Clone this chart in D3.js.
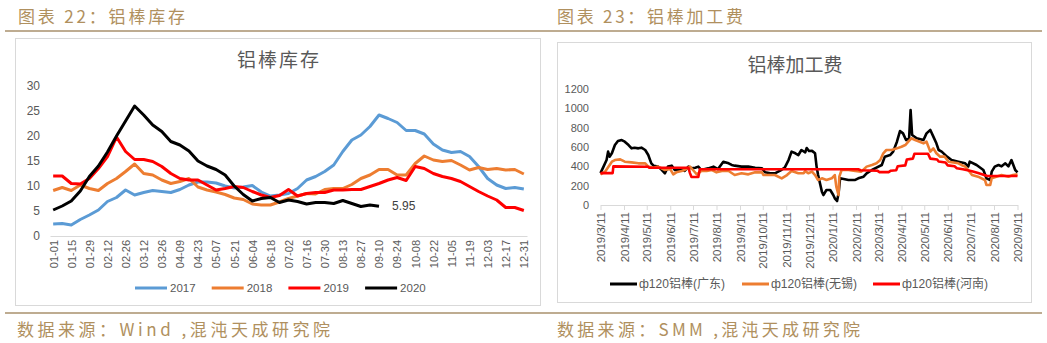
<!DOCTYPE html>
<html>
<head>
<meta charset="utf-8">
<script src="https://cdn.jsdelivr.net/npm/d3@7"></script>
<style>
  body { margin: 0; background: #fff; }
  svg { display: block; }
</style>
</head>
<body>
<svg id="chart" width="1047" height="343"></svg>
<script>
// ---- left chart: aluminium rod stock (weekly) ----
var weeks = ["01-01","01-08","01-15","01-22","01-29","02-05","02-12","02-19","02-26","03-05",
  "03-12","03-19","03-26","04-02","04-09","04-16","04-23","04-30","05-07","05-14",
  "05-21","05-28","06-04","06-11","06-18","06-25","07-02","07-09","07-16","07-23",
  "07-30","08-06","08-13","08-20","08-27","09-03","09-10","09-17","09-24","10-01",
  "10-08","10-15","10-22","10-29","11-05","11-12","11-19","11-26","12-03","12-10",
  "12-17","12-24","12-31"];
var stock2017 = [2.4,2.5,2.2,3.3,4.2,5.2,6.9,7.7,9.2,8.2, 8.7,9.1,8.9,8.7,9.3,10.2,10.8,10.8,10.6,10.0,
  9.6,9.8,10.1,8.8,8.0,8.2,8.5,9.5,11.2,11.9, 12.9,14.2,16.9,19.2,20.2,21.9,24.2,23.5,22.7,21.1,
  21.1,20.4,18.4,17.2,16.7,16.9,15.9,13.9,11.5,10.2, 9.5,9.7,9.4];
var stock2018 = [9.1,9.7,9.1,10.2,9.5,9.1,10.5,11.5,12.9,14.4, 12.5,12.2,11.2,10.5,10.9,11.5,9.8,9.2,8.8,8.3,
  7.6,7.3,6.4,6.2,6.2,6.8,7.5,8.0,8.5,8.4, 9.3,9.5,9.5,10.3,11.5,12.2,13.3,13.3,12.2,12.2,
  14.5,16.0,15.2,14.9,15.1,14.2,13.2,13.7,13.3,13.5, 13.2,13.3,12.4];
var stock2019 = [12.0,12.0,10.5,10.4,11.5,13.5,15.9,19.8,16.9,15.3, 15.3,14.9,13.9,12.5,11.5,11.2,11.2,10.2,9.2,9.5,
  9.9,9.7,8.9,8.2,7.7,8.1,9.3,8.0,8.5,8.7, 8.7,9.2,9.2,9.3,9.3,9.9,10.5,11.2,11.7,11.1,
  13.9,13.5,12.5,11.9,11.5,10.9,9.9,8.9,8.0,7.2, 5.7,5.7,5.1];
var stock2020 = [5.2,6.0,7.0,9.0,11.9,14.0,16.8,20.0,23.0,26.0, 24.2,22.2,20.9,18.9,18.2,17.0,15.0,14.0,13.3,12.2,
  10.0,8.3,7.0,7.5,7.7,6.7,7.2,6.9,6.4,6.7, 6.7,6.5,7.1,6.5,5.9,6.2,5.95];
var stockNames = ["2017","2018","2019","2020"];
var stockColors = ["#5b9bd5","#ed7d31","#ff0000","#000000"];
var stockTicks = [0,5,10,15,20,25,30];

// ---- right chart: processing fee (daily) ----
var gdDates = ["2019-03-11","2019-03-15","2019-03-19","2019-03-21","2019-03-23","2019-03-26","2019-03-30","2019-04-03","2019-04-08","2019-04-12",
  "2019-04-17","2019-04-21","2019-04-25","2019-04-30","2019-05-04","2019-05-09","2019-05-13","2019-05-17","2019-05-20","2019-05-26",
  "2019-05-31","2019-06-04","2019-06-08","2019-06-13","2019-06-17","2019-06-22","2019-06-26","2019-06-30","2019-07-05","2019-07-09",
  "2019-07-14","2019-07-18","2019-07-22","2019-07-31","2019-08-07","2019-08-13","2019-08-20","2019-08-27","2019-08-31","2019-09-04",
  "2019-09-13","2019-09-22","2019-10-01","2019-10-10","2019-10-14","2019-10-21","2019-10-27","2019-11-03","2019-11-09","2019-11-14",
  "2019-11-18","2019-11-23","2019-11-27","2019-12-01","2019-12-06","2019-12-08","2019-12-11","2019-12-15","2019-12-19","2019-12-21",
  "2019-12-23","2019-12-26","2019-12-28","2019-12-30","2020-01-03","2020-01-08","2020-01-12","2020-01-14","2020-01-17","2020-01-19",
  "2020-01-21","2020-02-01","2020-02-10","2020-02-14","2020-02-21","2020-02-25","2020-03-03","2020-03-09","2020-03-16","2020-03-20",
  "2020-03-27","2020-03-31","2020-04-05","2020-04-09","2020-04-13","2020-04-17","2020-04-21","2020-04-23","2020-04-25","2020-05-01",
  "2020-05-10","2020-05-14","2020-05-19","2020-05-23","2020-05-27","2020-05-30","2020-06-03","2020-06-10","2020-06-16","2020-06-25",
  "2020-07-04","2020-07-08","2020-07-10","2020-07-19","2020-07-28","2020-08-01","2020-08-06","2020-08-08","2020-08-12","2020-08-17",
  "2020-08-21","2020-08-26","2020-08-30","2020-09-03","2020-09-08","2020-09-11"];
var gdValues = [330,397,465,552,500,535,620,662,672,655, 620,586,593,586,593,569,517,431,407,397,
  362,328,397,407,362,362,372,352,397,380, 386,397,362,379,397,372,448,431,414,407,
  397,397,386,379,338,328,328,355,386,465, 552,535,517,569,545,590,559,560,535,397,
  310,207,138,103,155,155,103,69,41,121, 276,259,259,276,293,328,362,386,414,500,
  517,552,655,765,741,672,690,983,724,690, 672,741,776,707,638,569,552,500,465,448,
  431,397,448,414,362,276,259,345,397,414, 400,431,400,465,362,338];

var wxDates = ["2019-03-11","2019-03-17","2019-03-26","2019-03-30","2019-04-06","2019-04-12","2019-04-21","2019-04-30","2019-05-09","2019-05-13",
  "2019-05-20","2019-05-26","2019-06-04","2019-06-11","2019-06-15","2019-06-19","2019-06-26","2019-06-30","2019-07-07","2019-07-11",
  "2019-07-16","2019-07-22","2019-07-29","2019-08-05","2019-08-11","2019-08-18","2019-08-27","2019-09-04","2019-09-13","2019-09-22",
  "2019-10-01","2019-10-10","2019-10-12","2019-10-27","2019-11-05","2019-11-12","2019-11-18","2019-11-27","2019-12-04","2019-12-06",
  "2019-12-10","2019-12-15","2019-12-19","2019-12-23","2019-12-28","2020-01-03","2020-01-10","2020-01-14","2020-01-16","2020-01-19",
  "2020-01-20","2020-01-23","2020-02-01","2020-02-10","2020-02-18","2020-02-25","2020-03-03","2020-03-09","2020-03-14","2020-03-18",
  "2020-03-22","2020-03-29","2020-04-05","2020-04-11","2020-04-16","2020-04-20","2020-04-24","2020-04-29","2020-05-10","2020-05-14",
  "2020-05-19","2020-05-23","2020-05-27","2020-06-01","2020-06-07","2020-06-12","2020-06-25","2020-06-29","2020-07-04","2020-07-08",
  "2020-07-13","2020-07-21","2020-07-30","2020-08-01","2020-08-06","2020-08-08","2020-08-14","2020-08-21","2020-08-30","2020-09-05",
  "2020-09-11"];
var wxValues = [317,345,448,465,472,448,441,431,431,397, 386,397,362,372,317,338,352,362,397,362,
  317,352,352,362,338,352,352,310,328,317, 338,338,310,310,276,310,352,328,330,350,
  328,345,310,259,276,259,276,310,190,103, 293,362,362,352,345,397,414,431,465,535,
  569,569,586,603,620,655,690,672,638,655, 552,586,535,500,500,448,431,414,397,362,
  310,293,259,207,207,276,293,310,293,310, 317];

var hnDates = ["2019-03-11","2019-03-27","2019-03-28","2019-05-13","2019-05-14","2019-07-05","2019-07-07","2019-07-09","2019-07-18","2019-07-20",
  "2020-02-14","2020-02-17","2020-03-10","2020-03-13","2020-03-25","2020-03-28","2020-04-04","2020-04-06","2020-04-16","2020-04-18",
  "2020-04-26","2020-04-28","2020-05-16","2020-05-19","2020-05-28","2020-05-30","2020-06-08","2020-06-11","2020-06-20","2020-06-23",
  "2020-07-01","2020-07-13","2020-07-21","2020-07-29","2020-08-02","2020-09-11"];
var hnValues = [330,330,400,395,385,385,330,290,290,370, 370,360,355,340,340,355,360,400,410,470,
  480,530,530,480,470,450,440,410,400,380, 370,350,330,310,300,300];

var feeNames = ["ф120铝棒(广东)","ф120铝棒(无锡)","ф120铝棒(河南)"];
var feeColors = ["#000000","#ed7d31","#ff0000"];
var feeTicks = [0,200,400,600,800,1000,1200];
var feeMonths = ["2019-03-11","2019-04-11","2019-05-11","2019-06-11","2019-07-11","2019-08-11","2019-09-11","2019-10-11","2019-11-11","2019-12-11",
  "2020-01-11","2020-02-11","2020-03-11","2020-04-11","2020-05-11","2020-06-11","2020-07-11","2020-08-11","2020-09-11"];

var gold = "#b0905e";
var grayTxt = "#595959";
var cjk = "'Noto Sans CJK SC', sans-serif";
var num = "'Liberation Sans', 'Noto Sans CJK SC', sans-serif";

var svg = d3.select("#chart");

// header / footer rules and captions
svg.append("line").attr("x1", 5).attr("x2", 1042).attr("y1", 31).attr("y2", 31)
    .attr("stroke", "#a8916d").attr("stroke-width", 1.5);
svg.append("line").attr("x1", 5).attr("x2", 1042).attr("y1", 313).attr("y2", 313)
    .attr("stroke", "#a8916d").attr("stroke-width", 1.5);

function caption(x, y, s, len, size) {
    svg.append("text").attr("x", x).attr("y", y)
        .attr("font-family", cjk).attr("font-size", size).attr("fill", gold)
        .attr("dominant-baseline", "central")
        .attr("textLength", len).attr("lengthAdjust", "spacing")
        .text(s);
}
caption(18, 15, "图表 22：铝棒库存", 167, 17);
caption(557, 15, "图表 23：铝棒加工费", 186, 17);
caption(17, 328, "数据来源：Wind ,混沌天成研究院", 313, 17);
caption(557, 328, "数据来源：SMM ,混沌天成研究院", 303, 17);

// chart frames
svg.append("rect").attr("x", 15.5).attr("y", 38.5).attr("width", 525).attr("height", 267)
    .attr("fill", "#fff").attr("stroke", "#d9d9d9");
svg.append("rect").attr("x", 557.5).attr("y", 42.5).attr("width", 474).attr("height", 260)
    .attr("fill", "#fff").attr("stroke", "#d9d9d9");

// ================= left chart =================
var L = svg.append("g");
L.append("text").attr("x", 279).attr("y", 58).attr("text-anchor", "middle")
    .attr("dominant-baseline", "central").attr("font-family", cjk)
    .attr("font-size", 19).attr("letter-spacing", 2).attr("fill", grayTxt).text("铝棒库存");

var xL = d3.scalePoint().domain(weeks).range([50, 527]).padding(0.35);
var yL = d3.scaleLinear().domain([0, 30]).range([236, 86]);

var yAxL = L.append("g").attr("transform", "translate(48,0)")
    .call(d3.axisLeft(yL).tickValues(stockTicks).tickSize(0).tickPadding(8));
yAxL.select(".domain").remove();
yAxL.selectAll("text").attr("font-family", num).attr("font-size", 12).attr("fill", grayTxt);

var xAxL = L.append("g").attr("transform", "translate(0,236)")
    .call(d3.axisBottom(xL).tickValues(weeks.filter((d, i) => i % 2 == 0)).tickSize(0).tickSizeOuter(0));
xAxL.select(".domain").attr("stroke", "#d9d9d9");
xAxL.selectAll("text")
    .attr("transform", "rotate(-90)")
    .attr("text-anchor", "end")
    .attr("x", -4).attr("y", 0).attr("dy", "0.35em")
    .attr("font-family", num).attr("font-size", 11).attr("fill", grayTxt);

var stockSeries = [stock2017, stock2018, stock2019, stock2020];
var lineL = d3.line().x((d, i) => xL(weeks[i])).y(d => yL(d));
L.selectAll("path.stock").data(stockSeries).enter().append("path")
    .attr("class", "stock")
    .attr("d", lineL)
    .attr("fill", "none")
    .attr("stroke", (d, i) => stockColors[i])
    .attr("stroke-width", 3)
    .attr("stroke-linejoin", "round");

// label for last 2020 point
var lastI = stock2020.length - 1;
L.append("text").attr("x", xL(weeks[lastI]) + 13).attr("y", yL(stock2020[lastI]))
    .attr("dominant-baseline", "central").attr("font-family", num).attr("font-size", 12)
    .attr("fill", "#404040").text(stock2020[lastI]);

// legend
var legL = L.selectAll("g.leg").data(stockNames).enter().append("g")
    .attr("class", "leg")
    .attr("transform", (d, i) => "translate(" + (135 + i * 76.7) + ",288)");
legL.append("line").attr("x1", 0).attr("x2", 32).attr("y1", 0).attr("y2", 0)
    .attr("stroke", (d, i) => stockColors[i]).attr("stroke-width", 3);
legL.append("text").attr("x", 35).attr("y", 0).attr("dominant-baseline", "central")
    .attr("font-family", num).attr("font-size", 11.5).attr("fill", grayTxt).text(d => d);

// ================= right chart =================
var R = svg.append("g");
R.append("text").attr("x", 795).attr("y", 63).attr("text-anchor", "middle")
    .attr("dominant-baseline", "central").attr("font-family", cjk)
    .attr("font-size", 19).attr("fill", grayTxt).text("铝棒加工费");

var parse = d3.timeParse("%Y-%m-%d");
var monthDates = feeMonths.map(parse);
var xR = d3.scaleTime().domain([monthDates[0], monthDates[monthDates.length - 1]]).range([600.5, 1017.5]);
var yR = d3.scaleLinear().domain([0, 1200]).range([205, 89]);

var yAxR = R.append("g").attr("transform", "translate(597,0)")
    .call(d3.axisLeft(yR).tickValues(feeTicks).tickFormat(d3.format("d")).tickSize(0).tickPadding(8));
yAxR.select(".domain").remove();
yAxR.selectAll("text").attr("font-family", num).attr("font-size", 11).attr("fill", grayTxt);

var fmt = d3.timeFormat("%Y/%-m/%-d");
var xAxR = R.append("g").attr("transform", "translate(0,205)")
    .call(d3.axisBottom(xR).tickValues(monthDates).tickSize(5).tickSizeOuter(0).tickFormat(fmt));
xAxR.select(".domain").attr("stroke", "#d9d9d9");
xAxR.selectAll(".tick line").attr("stroke", "#d9d9d9");
xAxR.selectAll("text")
    .attr("transform", "rotate(-90)")
    .attr("text-anchor", "end")
    .attr("x", -7).attr("y", 0).attr("dy", "0.35em")
    .attr("font-family", num).attr("font-size", 11.5).attr("fill", grayTxt);

var feeSeries = [
    gdDates.map((d, i) => ({ t: parse(d), v: gdValues[i] })),
    wxDates.map((d, i) => ({ t: parse(d), v: wxValues[i] })),
    hnDates.map((d, i) => ({ t: parse(d), v: hnValues[i] }))
];
var lineR = d3.line().x(d => xR(d.t)).y(d => yR(d.v));
R.selectAll("path.fee").data(feeSeries).enter().append("path")
    .attr("class", "fee")
    .attr("d", lineR)
    .attr("fill", "none")
    .attr("stroke", (d, i) => feeColors[i])
    .attr("stroke-width", 2.6)
    .attr("stroke-linejoin", "round");

// legend
var legX = [610, 742, 873];
var legR = R.selectAll("g.legR").data(feeNames).enter().append("g")
    .attr("class", "legR")
    .attr("transform", (d, i) => "translate(" + legX[i] + ",284)");
legR.append("line").attr("x1", 0).attr("x2", 27).attr("y1", 0).attr("y2", 0)
    .attr("stroke", (d, i) => feeColors[i]).attr("stroke-width", 3);
legR.append("text").attr("x", 29).attr("y", 0).attr("dominant-baseline", "central")
    .attr("font-family", num).attr("font-size", 12).attr("fill", grayTxt).text(d => d);
</script>
</body>
</html>
